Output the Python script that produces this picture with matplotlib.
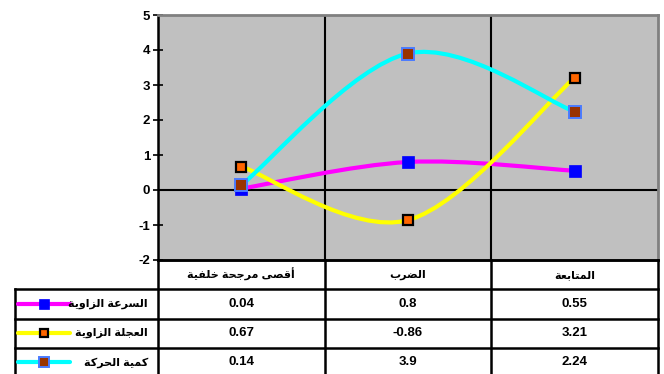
import matplotlib
matplotlib.use('Agg')
import matplotlib.pyplot as plt
from matplotlib.path import Path
from matplotlib.patches import PathPatch

# ── Data ────────────────────────────────────────────────────
categories = ['أقصى مرجحة خلفية', 'الضرب', 'المتابعة']
series_names = ['السرعة الزاوية', 'العجلة الزاوية', 'كمية الحركة']
angular_velocity = [0.04, 0.8, 0.55]
angular_accel = [0.67, -0.86, 3.21]
momentum = [0.14, 3.9, 2.24]
y_ticks = [-2, -1, 0, 1, 2, 3, 4, 5]

series = [angular_velocity, angular_accel, momentum]

# line colour, marker face, marker edge, marker size, edge width
styles = [
    ('#FF00FF', '#0000FF', '#0000FF', 9.0, 0.5),
    ('#FFFF00', '#FF6600', '#000000', 7.0, 1.6),
    ('#00FFFF', '#993300', '#4A7BFF', 8.8, 1.4),
]

plt.rcParams['font.family'] = ['Liberation Sans', 'DejaVu Sans']
plt.rcParams['font.weight'] = 'bold'

# ── Arabic shaping (matplotlib has no complex text layout) ──
FORMS = {
    'ا': (0xFE8D, 0xFE8E, None, None),
    'أ': (0xFE83, 0xFE84, None, None),
    'ب': (0xFE8F, 0xFE90, 0xFE91, 0xFE92),
    'ة': (0xFE93, 0xFE94, None, None),
    'ت': (0xFE95, 0xFE96, 0xFE97, 0xFE98),
    'ج': (0xFE9D, 0xFE9E, 0xFE9F, 0xFEA0),
    'ح': (0xFEA1, 0xFEA2, 0xFEA3, 0xFEA4),
    'خ': (0xFEA5, 0xFEA6, 0xFEA7, 0xFEA8),
    'ر': (0xFEAD, 0xFEAE, None, None),
    'ز': (0xFEAF, 0xFEB0, None, None),
    'س': (0xFEB1, 0xFEB2, 0xFEB3, 0xFEB4),
    'ص': (0xFEB9, 0xFEBA, 0xFEBB, 0xFEBC),
    'ض': (0xFEBD, 0xFEBE, 0xFEBF, 0xFEC0),
    'ع': (0xFEC9, 0xFECA, 0xFECB, 0xFECC),
    'ف': (0xFED1, 0xFED2, 0xFED3, 0xFED4),
    'ق': (0xFED5, 0xFED6, 0xFED7, 0xFED8),
    'ك': (0xFED9, 0xFEDA, 0xFEDB, 0xFEDC),
    'ل': (0xFEDD, 0xFEDE, 0xFEDF, 0xFEE0),
    'م': (0xFEE1, 0xFEE2, 0xFEE3, 0xFEE4),
    'و': (0xFEED, 0xFEEE, None, None),
    'ى': (0xFEEF, 0xFEF0, None, None),
    'ي': (0xFEF1, 0xFEF2, 0xFEF3, 0xFEF4),
}


def shape(text):
    out = []
    for i, ch in enumerate(text):
        f = FORMS.get(ch)
        if f is None:
            out.append(ch)
            continue
        prev = FORMS.get(text[i - 1]) if i > 0 else None
        nxt = FORMS.get(text[i + 1]) if i + 1 < len(text) else None
        jp = prev is not None and prev[2] is not None
        jn = f[2] is not None and nxt is not None
        idx = 3 if (jp and jn) else 1 if jp else 2 if jn else 0
        out.append(chr(f[idx]))
    return ''.join(reversed(out))


def smooth_path(xs, ys, t=1 / 6):
    """Cubic Bezier through the points, Catmull-Rom style tangents."""
    pts = list(zip(xs, ys))
    n = len(pts)
    verts = [pts[0]]
    codes = [Path.MOVETO]
    for i in range(n - 1):
        p0 = pts[max(i - 1, 0)]
        p1 = pts[i]
        p2 = pts[i + 1]
        p3 = pts[min(i + 2, n - 1)]
        c1 = (p1[0] + (p2[0] - p0[0]) * t, p1[1] + (p2[1] - p0[1]) * t)
        c2 = (p2[0] - (p3[0] - p1[0]) * t, p2[1] - (p3[1] - p1[1]) * t)
        verts += [c1, c2, p2]
        codes += [Path.CURVE4] * 3
    return Path(verts, codes)


W, H = 664, 374
fig = plt.figure(figsize=(W / 100, H / 100), dpi=100)

# pixel layout
px_left, px_right, px_top, px_bottom = 158, 658, 15, 260
tbl_left, tbl_bottom = 15, 377

ax = fig.add_axes([px_left / W, 1 - px_bottom / H,
                   (px_right - px_left) / W, (px_bottom - px_top) / H])
ax.set_facecolor('#C0C0C0')

x = list(range(len(categories)))
for i, (vals, st) in enumerate(zip(series, styles)):
    ax.add_patch(PathPatch(smooth_path(x, vals), fill=False,
                           edgecolor=st[0], linewidth=3.0, zorder=3,
                           capstyle='butt'))
for i, (vals, st) in enumerate(zip(series, styles)):
    ax.plot(x, vals, linestyle='none', marker='s', markersize=st[3],
            markerfacecolor=st[1], markeredgecolor=st[2],
            markeredgewidth=st[4], zorder=4 + i)

ax.set_xlim(-0.5, len(categories) - 0.5)
ax.set_ylim(-2, 5)
ax.set_yticks(y_ticks)
ax.set_yticklabels([str(v) for v in y_ticks], fontsize=9.5, fontweight='bold')
ax.tick_params(axis='y', direction='inout', length=7, width=1.2, pad=2)
ax.set_xticks([])

# category separators and zero line
for b in [k + 0.5 for k in x[:-1]]:
    ax.axvline(b, color='black', linewidth=1.5, zorder=2)
ax.axhline(0, color='black', linewidth=1.5, zorder=2)

ax.spines['left'].set_color('black')
ax.spines['left'].set_linewidth(1.8)
ax.spines['bottom'].set_color('black')
ax.spines['bottom'].set_linewidth(1.8)
for s in ['top', 'right']:
    ax.spines[s].set_color('#808080')
    ax.spines[s].set_linewidth(2.0)

# ── Data table under the plot ───────────────────────────────
unit = len(categories) / (px_right - px_left)       # data units per pixel
x_lo = -0.5 - (px_left - tbl_left) * unit
x_hi = len(categories) - 0.5

tax = fig.add_axes([tbl_left / W, 1 - tbl_bottom / H,
                    (px_right - tbl_left) / W, (tbl_bottom - px_bottom) / H])
tax.set_xlim(x_lo, x_hi)
n_rows = len(series) + 1
tax.set_ylim(n_rows, 0)
tax.axis('off')

lw = 1.8
# horizontal rules
tax.plot([-0.5, x_hi], [0, 0], color='black', lw=lw, clip_on=False)
for r in range(1, n_rows):
    tax.plot([x_lo, x_hi], [r, r], color='black', lw=lw, clip_on=False)
# vertical rules
tax.plot([x_lo, x_lo], [1, n_rows], color='black', lw=lw, clip_on=False)
for b in [k - 0.5 for k in x] + [x_hi]:
    tax.plot([b, b], [0, n_rows], color='black', lw=lw, clip_on=False)

for k, cat in enumerate(categories):
    tax.text(k, 0.5, shape(cat), ha='center', va='center',
             fontsize=8, fontweight='bold')

for r, (name, vals, st) in enumerate(zip(series_names, series, styles), start=1):
    yc = r + 0.5
    key0 = x_lo + 3 * unit
    key1 = x_lo + 55 * unit
    tax.plot([key0, key1], [yc, yc], color=st[0], lw=3.0,
             solid_capstyle='round')
    tax.plot([(key0 + key1) / 2], [yc], linestyle='none', marker='s',
             markersize=st[3] * 0.8, markerfacecolor=st[1],
             markeredgecolor=st[2], markeredgewidth=st[4])
    tax.text(-0.5 - 10 * unit, yc, shape(name), ha='right', va='center',
             fontsize=8, fontweight='bold')
    for k, v in enumerate(vals):
        tax.text(k, yc, str(v), ha='center', va='center',
                 fontsize=9.5, fontweight='bold')

fig.savefig('out.png', dpi=100, facecolor='white')
